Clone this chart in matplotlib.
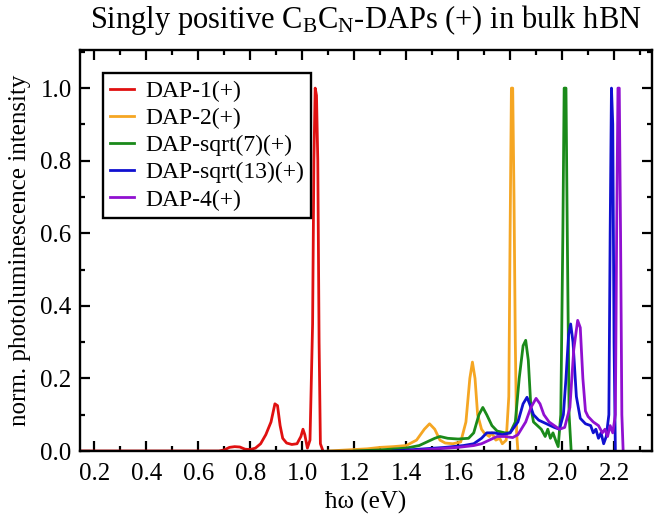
import matplotlib
matplotlib.use('Agg')
import matplotlib.pyplot as plt
from matplotlib.ticker import MultipleLocator

# spectra (photon energy in eV, normalised intensity)
dap1_x = [0.15, 0.68, 0.70, 0.72, 0.74, 0.76, 0.78, 0.80, 0.82, 0.84, 0.86, 0.88,
          0.895, 0.905, 0.915, 0.925, 0.94, 0.96, 0.98, 0.995, 1.003, 1.01, 1.02,
          1.03, 1.04, 1.045, 1.05, 1.055, 1.06, 1.065, 1.07, 1.08]
dap1_y = [0.0, 0.0, 0.003, 0.01, 0.012, 0.011, 0.005, 0.004, 0.008, 0.02, 0.045, 0.08,
          0.13, 0.125, 0.07, 0.035, 0.022, 0.018, 0.02, 0.04, 0.06, 0.045, 0.008,
          0.03, 0.35, 0.8, 1.0, 0.98, 0.8, 0.3, 0.02, 0.0]

dap2_x = [1.10, 1.15, 1.20, 1.25, 1.30, 1.35, 1.40, 1.44, 1.47, 1.49, 1.51, 1.53,
          1.55, 1.58, 1.61, 1.63, 1.645, 1.655, 1.665, 1.675, 1.69, 1.70, 1.72,
          1.73, 1.745, 1.76, 1.77, 1.785, 1.795, 1.80, 1.805, 1.81, 1.815, 1.82,
          1.825, 1.83]
dap2_y = [0.0, 0.002, 0.004, 0.006, 0.01, 0.012, 0.015, 0.03, 0.06, 0.075, 0.06, 0.03,
          0.022, 0.02, 0.025, 0.08, 0.2, 0.245, 0.2, 0.1, 0.06, 0.05, 0.04,
          0.05, 0.03, 0.035, 0.02, 0.03, 0.15, 0.6, 1.0, 1.0, 0.7, 0.3,
          0.05, 0.0]

dap7_x = [1.20, 1.30, 1.40, 1.45, 1.48, 1.51, 1.53, 1.56, 1.60, 1.64, 1.66, 1.68,
          1.695, 1.71, 1.73, 1.75, 1.78, 1.80, 1.82, 1.835, 1.85, 1.86, 1.87, 1.88,
          1.89, 1.905, 1.92, 1.935, 1.945, 1.955, 1.965, 1.975, 1.985, 1.995, 2.003,
          2.008, 2.015, 2.02, 2.027, 2.035]
dap7_y = [0.0, 0.003, 0.008, 0.015, 0.025, 0.035, 0.04, 0.035, 0.033, 0.035, 0.05, 0.1,
          0.12, 0.1, 0.07, 0.055, 0.05, 0.05, 0.08, 0.2, 0.29, 0.305, 0.25, 0.12,
          0.08, 0.07, 0.06, 0.04, 0.06, 0.035, 0.05, 0.03, 0.012, 0.1, 0.6,
          1.0, 1.0, 0.6, 0.1, 0.0]

dap13_x = [1.35, 1.45, 1.55, 1.62, 1.66, 1.69, 1.71, 1.74, 1.77, 1.80, 1.83, 1.85,
           1.865, 1.875, 1.89, 1.91, 1.94, 1.97, 1.99, 2.005, 2.015, 2.025, 2.033,
           2.042, 2.055, 2.07, 2.09, 2.11, 2.12, 2.13, 2.14, 2.15, 2.16, 2.17, 2.18,
           2.185, 2.19, 2.195, 2.20, 2.205]
dap13_y = [0.0, 0.005, 0.01, 0.015, 0.02, 0.035, 0.05, 0.05, 0.045, 0.05, 0.08, 0.13,
           0.148, 0.13, 0.1, 0.085, 0.075, 0.065, 0.06, 0.1, 0.2, 0.32, 0.35,
           0.3, 0.15, 0.09, 0.075, 0.07, 0.05, 0.06, 0.035, 0.05, 0.02, 0.04, 0.1,
           0.6, 1.0, 0.9, 0.3, 0.0]

dap4_x = [1.40, 1.50, 1.60, 1.66, 1.69, 1.72, 1.75, 1.78, 1.81, 1.83, 1.86, 1.88,
          1.90, 1.915, 1.93, 1.95, 1.97, 1.99, 2.01, 2.03, 2.045, 2.06, 2.07, 2.08,
          2.09, 2.10, 2.12, 2.14, 2.155, 2.165, 2.175, 2.185, 2.195, 2.205, 2.21,
          2.215, 2.22, 2.225, 2.23, 2.235]
dap4_y = [0.0, 0.005, 0.01, 0.015, 0.02, 0.03, 0.04, 0.04, 0.037, 0.045, 0.08, 0.12,
          0.145, 0.13, 0.1, 0.08, 0.07, 0.06, 0.065, 0.12, 0.28, 0.36, 0.34, 0.2,
          0.11, 0.095, 0.08, 0.07, 0.05, 0.06, 0.04, 0.07, 0.05, 0.1, 0.6,
          1.0, 1.0, 0.6, 0.1, 0.0]

series = [
    (dap1_x, dap1_y, 'DAP-1(+)', '#e01010'),
    (dap2_x, dap2_y, 'DAP-2(+)', '#f5a623'),
    (dap7_x, dap7_y, 'DAP-sqrt(7)(+)', '#1a8a1a'),
    (dap13_x, dap13_y, 'DAP-sqrt(13)(+)', '#1010d0'),
    (dap4_x, dap4_y, 'DAP-4(+)', '#9010d0'),
]

plt.rcParams['font.family'] = ['Liberation Serif', 'DejaVu Serif']
plt.rcParams['mathtext.fontset'] = 'custom'
plt.rcParams['mathtext.rm'] = 'Liberation Serif'
plt.rcParams['mathtext.it'] = 'Liberation Serif:italic'

fig = plt.figure(figsize=(6.55, 5.17), dpi=100)
ax = fig.add_axes([80 / 655, 66 / 517, 572 / 655, 401 / 517])

for x, y, lab, col in series:
    ax.plot(x, y, color=col, lw=2.0, label=lab)

ax.set_xlim(0.145, 2.346)
ax.set_ylim(0.0, 1.105)
ax.xaxis.set_major_locator(MultipleLocator(0.2))
ax.xaxis.set_minor_locator(MultipleLocator(0.1))
ax.yaxis.set_major_locator(MultipleLocator(0.2))
ax.yaxis.set_minor_locator(MultipleLocator(0.1))
ax.tick_params(which='both', direction='in', top=True, right=True, width=1.6,
               labelsize=18)
ax.tick_params(which='major', length=7.5)
ax.tick_params(which='minor', length=3.8)
ax.tick_params(axis='x', which='major', pad=9)
ax.tick_params(axis='y', which='major', pad=6)
for s in ax.spines.values():
    s.set_linewidth(1.7)

ax.set_xlabel('ħω (eV)', fontsize=18, labelpad=4)
ax.set_ylabel('norm. photoluminescence intensity', fontsize=18, labelpad=7)
ax.set_title(r'Singly positive C$_\mathrm{B}$C$_\mathrm{N}$-DAPs (+) in bulk hBN',
             fontsize=22, pad=16)

leg = ax.legend(loc='upper left', bbox_to_anchor=(0.04, 0.942), borderaxespad=0,
                fontsize=17, fancybox=False, framealpha=1, handlelength=1.0,
                handletextpad=0.5, labelspacing=0.24, borderpad=0.3)
leg.get_frame().set_edgecolor('black')
leg.get_frame().set_linewidth(1.7)

plt.savefig('out.png', dpi=100)
